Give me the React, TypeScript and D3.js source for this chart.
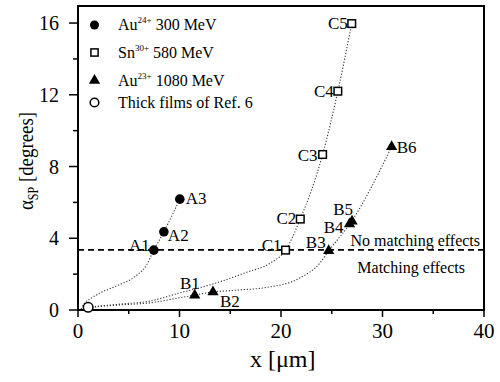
import React, { useRef, useEffect } from 'react';
import * as d3 from 'd3';

// measured points
const aX = [7.47, 8.46, 10.03];
const aY = [3.34, 4.36, 6.18];
const aLabels = ['A1', 'A2', 'A3'];

const bX = [11.5, 13.3, 24.7, 26.75, 27.0, 30.9];
const bY = [0.82, 1.0, 3.3, 4.8, 4.95, 9.1];
const bLabels = ['B1', 'B2', 'B3', 'B4', 'B5', 'B6'];

const cX = [20.45, 21.9, 24.1, 25.6, 26.97];
const cY = [3.34, 5.07, 8.67, 12.2, 15.97];
const cLabels = ['C1', 'C2', 'C3', 'C4', 'C5'];

const thickX = [1.0];
const thickY = [0.15];

// dotted fit curves
const fitAX = [0.3, 0.6, 1.2, 2.2, 3.6, 5.6, 6.75, 7.47, 8.46, 10.03];
const fitAY = [0.05, 0.35, 0.62, 0.95, 1.3, 1.86, 2.5, 3.34, 4.36, 6.18];
const fitBX = [0.5, 1.5, 4, 7.1, 10, 13.3, 16, 18.5, 21.8, 23.8, 24.7, 26.9, 30.9];
const fitBY = [0.05, 0.15, 0.28, 0.4, 0.68, 1.0, 1.12, 1.25, 1.77, 2.6, 3.3, 4.9, 9.1];
const fitCX = [0.5, 1.5, 4, 7.1, 10, 13.3, 16.6, 18.9, 20.45, 21.9, 24.1, 25.6, 26.97];
const fitCY = [0.05, 0.17, 0.32, 0.5, 0.95, 1.45, 2.1, 2.6, 3.34, 5.07, 8.67, 12.2, 15.97];

const matchLevel = 3.35;

const xTicks = [0, 10, 20, 30, 40];
const yTicks = [0, 4, 8, 12, 16];

type P = { x: number; y: number; label?: string };
const zip = (xs: number[], ys: number[], ls?: string[]): P[] =>
  xs.map((x, i) => ({ x, y: ys[i], label: ls ? ls[i] : undefined }));

// label placement: dx, baseline dy (pixels from marker), anchor
const labelPos: Record<string, [number, number, string]> = {
  A1: [-4, 1, 'end'], A2: [4, 9, 'start'], A3: [6, 5, 'start'],
  B1: [5, -6, 'end'], B2: [7, 15, 'start'], B3: [-3, -3, 'end'],
  B4: [-6, 9, 'end'], B5: [1, -6, 'end'], B6: [5, 6, 'start'],
  C1: [-4, 1, 'end'], C2: [-4, 5, 'end'], C3: [-5, 6, 'end'],
  C4: [-4, 6, 'end'], C5: [-4, 5, 'end'],
};

const App: React.FC = () => {
  const svgRef = useRef<SVGSVGElement>(null);

  const width = 500;
  const height = 382;
  const marginTop = 6;
  const marginRight = 16;
  const marginBottom = 72;
  const marginLeft = 78;
  const font = '"Liberation Serif", "Times New Roman", Times, serif';

  const x = d3.scaleLinear().domain([0, 40]).range([marginLeft, width - marginRight]);
  const y = d3.scaleLinear().domain([0, 16.95]).range([height - marginBottom, marginTop]);

  useEffect(() => {
    if (!svgRef.current) return;
    const svg = d3.select(svgRef.current);
    svg.selectAll('*').remove();

    const x0 = x(0), x1 = x(40), y0 = y(0), y1 = y.range()[1];

    // frame
    svg.append('rect')
      .attr('x', x0).attr('y', y1)
      .attr('width', x1 - x0).attr('height', y0 - y1)
      .attr('fill', 'none').attr('stroke', '#000').attr('stroke-width', 2);

    // x axis
    const gx = svg.append('g').attr('transform', `translate(0,${y0})`);
    d3.range(0, 41, 5).forEach((v) => {
      const major = v % 10 === 0;
      gx.append('line').attr('x1', x(v)).attr('x2', x(v)).attr('y1', 0).attr('y2', major ? 7 : 4)
        .attr('stroke', '#000').attr('stroke-width', 1.5);
    });
    xTicks.forEach((v) => {
      gx.append('text').attr('x', x(v)).attr('y', 28).attr('text-anchor', 'middle')
        .style('font-size', '21px').text(v);
    });

    // y axis
    const gy = svg.append('g').attr('transform', `translate(${x0},0)`);
    d3.range(0, 17, 2).forEach((v) => {
      const major = v % 4 === 0;
      gy.append('line').attr('x1', 0).attr('x2', major ? -9 : -5).attr('y1', y(v)).attr('y2', y(v))
        .attr('stroke', '#000').attr('stroke-width', 1.5);
    });
    yTicks.forEach((v) => {
      gy.append('text').attr('x', -19).attr('y', y(v) + 7).attr('text-anchor', 'end')
        .style('font-size', '20px').text(v);
    });

    // axis titles
    svg.append('text').attr('x', 250).attr('y', 367)
      .style('font-size', '24px').text('x [μm]');
    const yt = svg.append('text').attr('transform', `translate(33,210) rotate(-90)`)
      .attr('text-anchor', 'start').style('font-size', '22px')
      .attr('textLength', 98).attr('lengthAdjust', 'spacingAndGlyphs');
    yt.append('tspan').text('α');
    yt.append('tspan').style('font-size', '14px').attr('dy', 5).text('SP');
    yt.append('tspan').attr('dy', -5).text(' [degrees]');

    // matching threshold
    svg.append('line').attr('x1', x0).attr('x2', x1).attr('y1', y(matchLevel)).attr('y2', y(matchLevel))
      .attr('stroke', '#000').attr('stroke-width', 1.6).attr('stroke-dasharray', '6,4');
    svg.append('text').attr('x', 480).attr('y', 246).attr('text-anchor', 'end')
      .style('font-size', '16px').text('No matching effects');
    svg.append('text').attr('x', 465).attr('y', 273).attr('text-anchor', 'end')
      .style('font-size', '16px').text('Matching effects');

    // fits
    const line = d3.line<P>().x((d) => x(d.x)).y((d) => y(d.y)).curve(d3.curveMonotoneX);
    [zip(fitAX, fitAY), zip(fitBX, fitBY), zip(fitCX, fitCY)].forEach((pts) => {
      svg.append('path').attr('d', line(pts)).attr('fill', 'none').attr('stroke', '#333')
        .attr('stroke-width', 1.1).attr('stroke-dasharray', '1.2,1.8');
    });

    // markers
    svg.selectAll('.ptA').data(zip(aX, aY, aLabels)).join('circle').attr('class', 'ptA')
      .attr('cx', (d) => x(d.x)).attr('cy', (d) => y(d.y)).attr('r', 4.8).attr('fill', '#000');
    const tri = d3.symbol().type(d3.symbolTriangle).size(55);
    svg.selectAll('.ptB').data(zip(bX, bY, bLabels)).join('path').attr('class', 'ptB')
      .attr('d', tri()).attr('transform', (d) => `translate(${x(d.x)},${y(d.y)})`).attr('fill', '#000');
    svg.selectAll('.ptC').data(zip(cX, cY, cLabels)).join('rect').attr('class', 'ptC')
      .attr('x', (d) => x(d.x) - 3.8).attr('y', (d) => y(d.y) - 3.8).attr('width', 7.6).attr('height', 7.6)
      .attr('fill', '#fff').attr('stroke', '#000').attr('stroke-width', 1.5);
    svg.selectAll('.ptT').data(zip(thickX, thickY)).join('circle').attr('class', 'ptT')
      .attr('cx', (d) => x(d.x)).attr('cy', (d) => y(d.y)).attr('r', 4.8)
      .attr('fill', '#fff').attr('stroke', '#000').attr('stroke-width', 1.5);

    // point labels
    const all = [...zip(aX, aY, aLabels), ...zip(bX, bY, bLabels), ...zip(cX, cY, cLabels)];
    all.forEach((d) => {
      const [dx, dy, anchor] = labelPos[d.label as string];
      svg.append('text').attr('x', x(d.x) + dx).attr('y', y(d.y) + dy)
        .attr('text-anchor', anchor).style('font-size', '17px').text(d.label as string);
    });

    // legend
    const legend = [
      { kind: 'filled', base: 'Au', sup: '24+', rest: ' 300 MeV' },
      { kind: 'square', base: 'Sn', sup: '30+', rest: ' 580 MeV' },
      { kind: 'tri', base: 'Au', sup: '23+', rest: ' 1080 MeV' },
      { kind: 'open', base: 'Thick films of Ref. 6', sup: '', rest: '' },
    ];
    const legendY = [25, 52.5, 80.5, 102.5];
    legend.forEach((l, i) => {
      const ly = legendY[i];
      const lx = 94.5;
      if (l.kind === 'filled') svg.append('circle').attr('cx', lx).attr('cy', ly).attr('r', 4.5).attr('fill', '#000');
      if (l.kind === 'open') svg.append('circle').attr('cx', lx).attr('cy', ly).attr('r', 4.3)
        .attr('fill', '#fff').attr('stroke', '#000').attr('stroke-width', 1.5);
      if (l.kind === 'square') svg.append('rect').attr('x', lx - 3.6).attr('y', ly - 3.6).attr('width', 7.2).attr('height', 7.2)
        .attr('fill', '#fff').attr('stroke', '#000').attr('stroke-width', 1.5);
      if (l.kind === 'tri') svg.append('path').attr('d', tri()).attr('transform', `translate(${lx},${ly})`).attr('fill', '#000');
      const t = svg.append('text').attr('x', 118).attr('y', ly + 5).style('font-size', '16px');
      t.append('tspan').text(l.base);
      if (l.sup) {
        t.append('tspan').style('font-size', '9px').attr('dy', -7).text(l.sup);
        t.append('tspan').attr('dy', 7).text(l.rest);
      }
    });
  }, []);

  return (
    <svg ref={svgRef} width={width} height={height}
      style={{ position: 'absolute', left: 0, top: 0, background: '#fff', fontFamily: font }} />
  );
};

export default App;
